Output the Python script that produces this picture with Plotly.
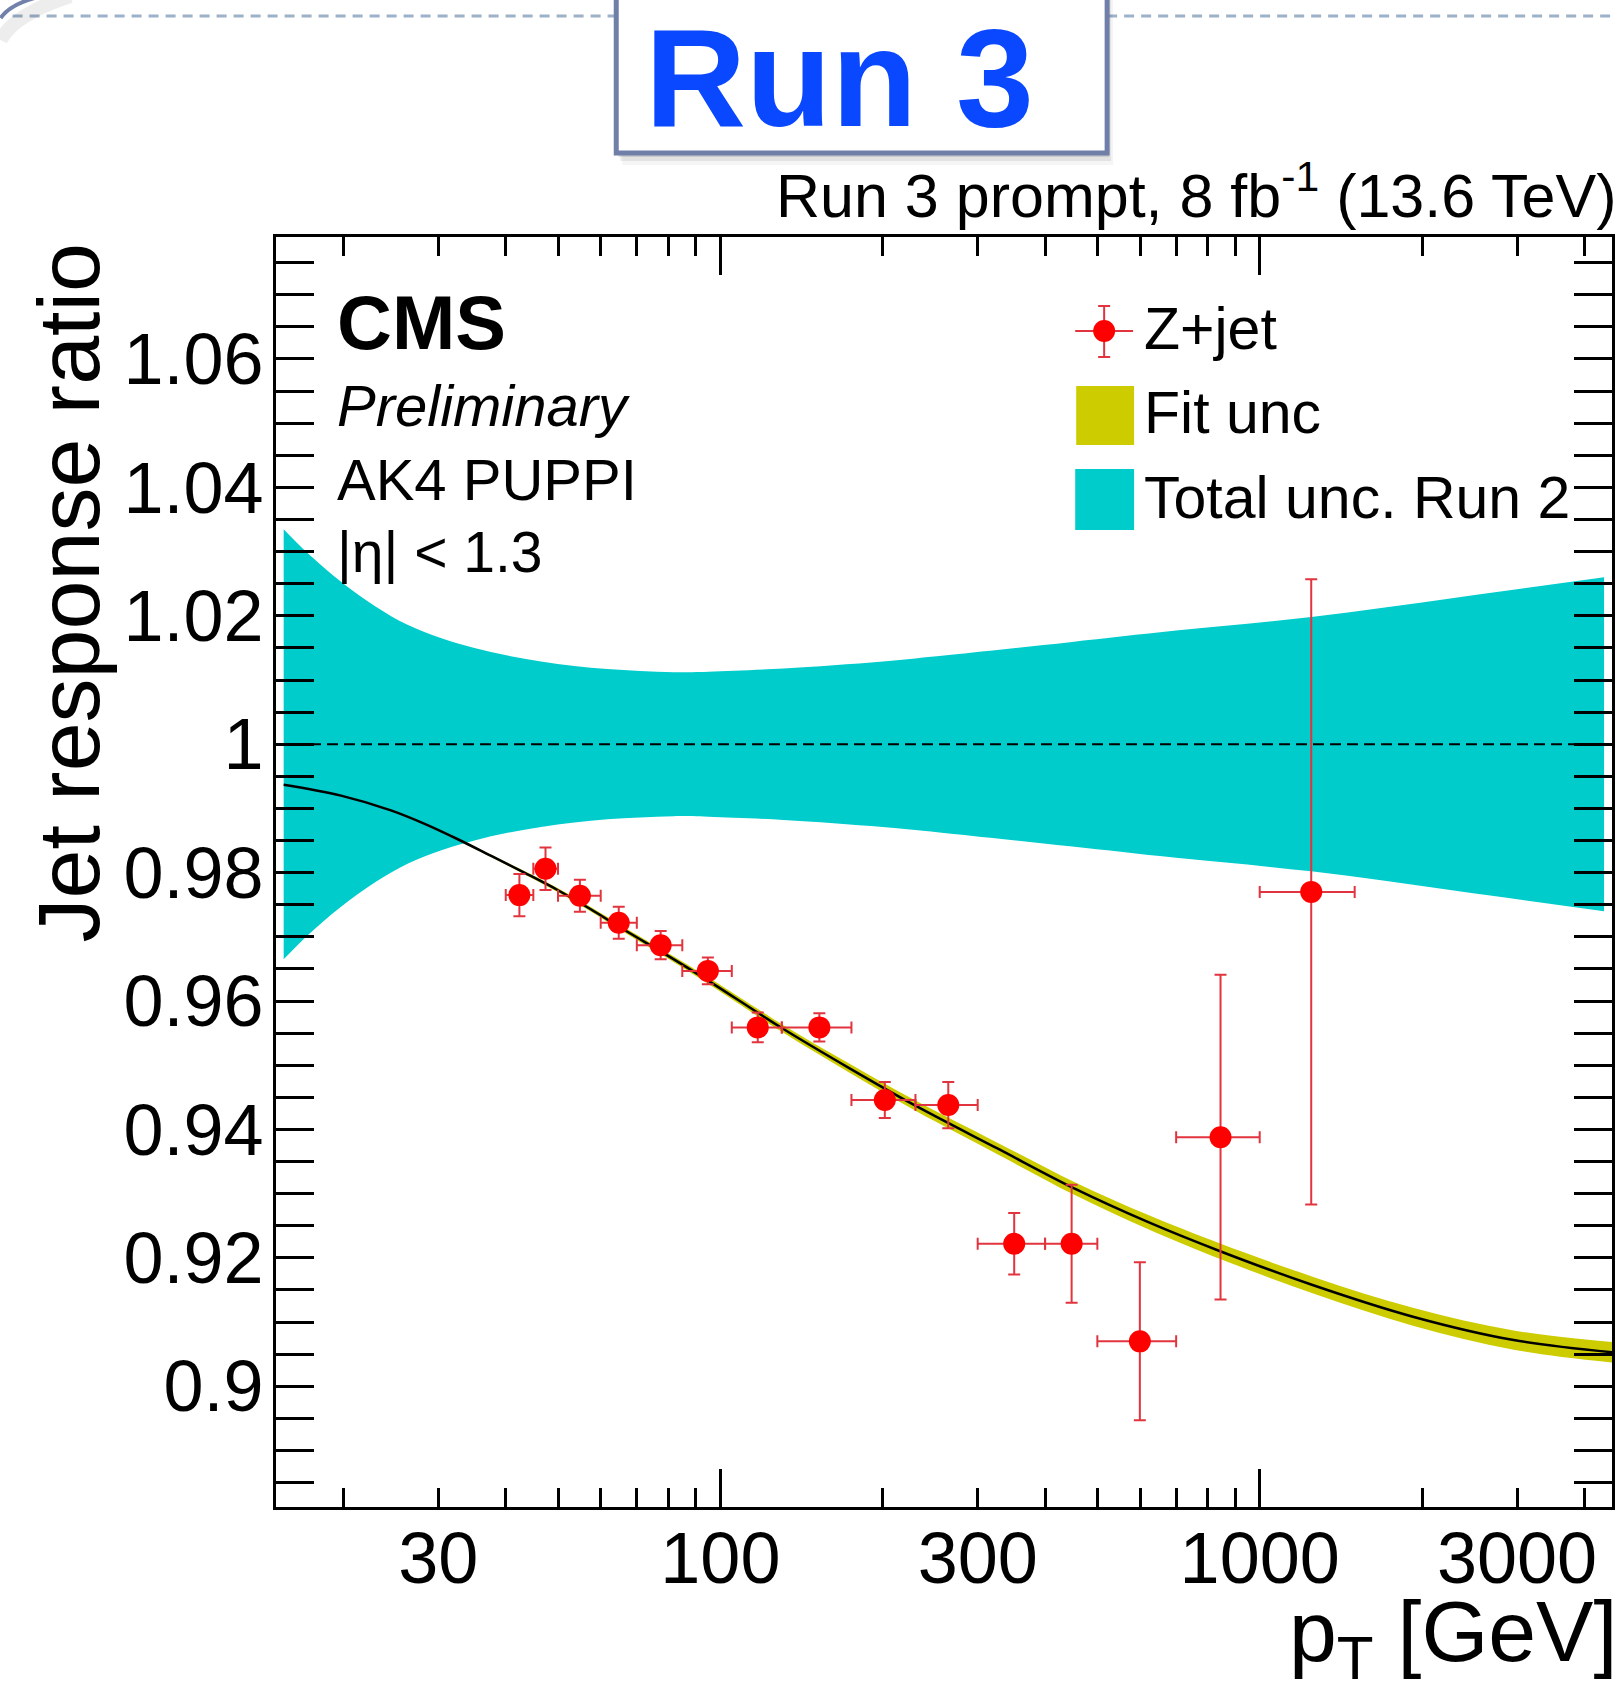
import math
import plotly.graph_objects as go

# ---------------------------------------------------------------------------
# Canvas and frame (pixel units)
# ---------------------------------------------------------------------------
W, H = 1619, 1681
L, R, T, B = 276, 1615, 237, 1507          # plot frame edges
PT_MIN, PT_MAX = 15, 4500                  # x-axis range [GeV]
Y_MIN, Y_MAX = 0.8812, 1.079               # y-axis range


def px(X):
    """pixel column -> paper x"""
    return (X - L) / (R - L)


def py(Y):
    """pixel row -> paper y"""
    return (B - Y) / (B - T)


FONT = "Liberation Sans, Arial, Helvetica, sans-serif"

# ---------------------------------------------------------------------------
# Z+jet response ratio (mean pT of bin, bin edges, ratio, stat. error)
# ---------------------------------------------------------------------------
zjet_pt = [42.4, 47.4, 54.9, 64.8, 77.5, 94.8, 117.3, 152.6, 201.8, 264.6,
           350.6, 448.0, 599.5, 846.0, 1246.0]
zjet_pt_low = [40, 45, 50, 60, 70, 85, 105, 130, 175, 230, 300, 400, 500, 700, 1000]
zjet_pt_high = [45, 50, 60, 70, 85, 105, 130, 175, 230, 300, 400, 500, 700, 1000, 1500]
zjet_ratio = [0.9765, 0.9806, 0.9764, 0.9722, 0.9687, 0.9647, 0.9559, 0.9559,
              0.9446, 0.9438, 0.9222, 0.9222, 0.9070, 0.9388, 0.9770]
zjet_err = [0.0033, 0.0033, 0.0025, 0.0025, 0.0022, 0.0021, 0.0023, 0.0022,
            0.0028, 0.0036, 0.0048, 0.0092, 0.0123, 0.0253, 0.0487]

# ---------------------------------------------------------------------------
# Fitted response and its uncertainty
# ---------------------------------------------------------------------------
fit_pt = [15.5, 19.8, 24.5, 28.3, 32.6, 37.6, 43.3, 49.9, 57.5, 66.3, 82.0,
          96.5, 130, 173, 230, 327, 456, 620, 847, 1261, 1931, 2957, 4500]
fit_val = [0.9937, 0.9920, 0.9897, 0.9876, 0.9852, 0.9826, 0.9800, 0.9773,
           0.9743, 0.9711, 0.9665, 0.9628, 0.9558, 0.9496, 0.9437, 0.9370,
           0.9307, 0.9256, 0.9210, 0.9157, 0.9108, 0.9072, 0.9053]
fit_unc = [0.0001, 0.0001, 0.00012, 0.00014, 0.00016, 0.0002, 0.00025, 0.0003,
           0.00035, 0.0004, 0.00045, 0.0005, 0.0006, 0.0007, 0.0008, 0.0009,
           0.0010, 0.0011, 0.0012, 0.0013, 0.0014, 0.0015, 0.0016]

# ---------------------------------------------------------------------------
# Run 2 total uncertainty (symmetric around unity)
# ---------------------------------------------------------------------------
run2_pt = [15.5, 17.2, 19.8, 22.9, 26.3, 30.4, 35.0, 40.3, 46.5, 53.6, 61.7,
           71.0, 82.0, 95.0, 131, 200, 265, 445, 700, 1246, 2342, 4350]
run2_unc = [0.0335, 0.0297, 0.0253, 0.0215, 0.0186, 0.0165, 0.0150, 0.0138,
            0.0129, 0.0122, 0.0117, 0.0114, 0.0112, 0.0113, 0.0118, 0.0129,
            0.0139, 0.0159, 0.0177, 0.0198, 0.0229, 0.0260]

# Axis ticks
x_major = [100, 1000]
x_minor = [20, 30, 40, 50, 60, 70, 80, 90, 200, 300, 400, 500, 600, 700, 800,
           900, 2000, 3000, 4000]
x_label_vals = [30, 100, 300, 1000, 3000]
x_label_text = ["30", "100", "300", "1000", "3000"]
y_major = [0.90, 0.92, 0.94, 0.96, 0.98, 1.00, 1.02, 1.04, 1.06]
y_label_text = ["0.9", "0.92", "0.94", "0.96", "0.98", "1", "1.02", "1.04", "1.06"]

CYAN = "#00CCCC"
OLIVE = "#CCCC00"
RED = "#FF0000"
ERR_RED = "rgb(226,52,62)"

fig = go.Figure()

# Run 2 total uncertainty band
fig.add_trace(go.Scatter(
    x=run2_pt, y=[1 - u for u in run2_unc], mode="lines",
    line=dict(width=0, shape="spline", color=CYAN),
    hoverinfo="skip", showlegend=False))
fig.add_trace(go.Scatter(
    x=run2_pt, y=[1 + u for u in run2_unc], mode="lines",
    line=dict(width=0, shape="spline", color=CYAN),
    fill="tonexty", fillcolor=CYAN, hoverinfo="skip", showlegend=False))

# unity reference
fig.add_trace(go.Scatter(
    x=[PT_MIN, PT_MAX], y=[1, 1], mode="lines",
    line=dict(color="black", width=2, dash="11px,6px"),
    hoverinfo="skip", showlegend=False))

# fit uncertainty band
fig.add_trace(go.Scatter(
    x=fit_pt, y=[v - u for v, u in zip(fit_val, fit_unc)], mode="lines",
    line=dict(width=0, shape="spline", color=OLIVE),
    hoverinfo="skip", showlegend=False))
fig.add_trace(go.Scatter(
    x=fit_pt, y=[v + u for v, u in zip(fit_val, fit_unc)], mode="lines",
    line=dict(width=0, shape="spline", color=OLIVE),
    fill="tonexty", fillcolor=OLIVE, hoverinfo="skip", showlegend=False))

# fit central value
fig.add_trace(go.Scatter(
    x=fit_pt, y=fit_val, mode="lines",
    line=dict(color="black", width=2.5, shape="spline"),
    hoverinfo="skip", showlegend=False))

# Z+jet points
fig.add_trace(go.Scatter(
    x=zjet_pt, y=zjet_ratio, mode="markers",
    marker=dict(color=RED, size=22, line=dict(width=0)),
    error_y=dict(type="data", array=zjet_err, color=ERR_RED, thickness=2, width=6),
    error_x=dict(type="data",
                 array=[h - m for h, m in zip(zjet_pt_high, zjet_pt)],
                 arrayminus=[m - l for m, l in zip(zjet_pt, zjet_pt_low)],
                 color=ERR_RED, thickness=2, width=6),
    showlegend=False, name="Z+jet"))

# carrier trace for the labelled x axis
fig.add_trace(go.Scatter(x=[100], y=[1], xaxis="x2", mode="markers",
                         marker=dict(opacity=0), hoverinfo="skip", showlegend=False))

tick_font = dict(family=FONT, size=72, color="black")

fig.update_layout(
    width=W, height=H, autosize=False,
    margin=dict(l=L, r=W - R, t=T, b=H - B, pad=0),
    paper_bgcolor="white", plot_bgcolor="white",
    showlegend=False,
    xaxis=dict(
        type="log", range=[math.log10(PT_MIN), math.log10(PT_MAX)],
        showline=True, linecolor="black", linewidth=3, mirror="allticks",
        ticks="inside", tickmode="array", tickvals=x_major, ticklen=38,
        tickwidth=2.5, tickcolor="black", showticklabels=False,
        showgrid=False, zeroline=False,
        minor=dict(tickmode="array", tickvals=x_minor, ticks="inside",
                   ticklen=19, tickwidth=2.5, tickcolor="black", showgrid=False),
    ),
    xaxis2=dict(
        type="log", range=[math.log10(PT_MIN), math.log10(PT_MAX)],
        overlaying="x", anchor="y", side="bottom",
        showline=False, ticks="", tickmode="array", tickvals=x_label_vals,
        ticktext=x_label_text, tickfont=tick_font, ticklabelstandoff=3,
        showgrid=False, zeroline=False,
    ),
    yaxis=dict(
        range=[Y_MIN, Y_MAX],
        showline=True, linecolor="black", linewidth=3, mirror="allticks",
        ticks="inside", tickmode="array", tickvals=y_major, ticktext=y_label_text,
        ticklen=38, tickwidth=2.5, tickcolor="black", tickfont=tick_font,
        ticklabelstandoff=-5, showgrid=False, zeroline=False,
        minor=dict(dtick=0.005, tick0=0, ticks="inside", ticklen=19,
                   tickwidth=2.5, tickcolor="black", showgrid=False),
    ),
)

shapes = []
annotations = []

# --- slide decoration: dashed rule, corner arc, "Run 3" badge -------------
shapes.append(dict(type="line", xref="paper", yref="paper",
                   x0=px(12), x1=px(617), y0=py(16), y1=py(16),
                   line=dict(color="#9db2c9", width=3, dash="10px,7px")))
shapes.append(dict(type="line", xref="paper", yref="paper",
                   x0=px(1109), x1=px(1619), y0=py(16), y1=py(16),
                   line=dict(color="#9db2c9", width=3, dash="10px,7px")))
shapes.append(dict(type="path", xref="paper", yref="paper",
                   path=f"M {px(0)},{py(40)} Q {px(14)},{py(14)} {px(70)},{py(-4)}",
                   line=dict(color="rgba(0,0,0,0.07)", width=14)))
shapes.append(dict(type="path", xref="paper", yref="paper",
                   path=f"M {px(0)},{py(18)} Q {px(9)},{py(5)} {px(34)},{py(-2)}",
                   line=dict(color="#7181aa", width=4)))
for off, alpha in [(12, 0.04), (8, 0.07), (4, 0.10)]:
    shapes.append(dict(type="rect", xref="paper", yref="paper",
                       x0=px(617 + off / 2), x1=px(1109 + off / 2),
                       y0=py(153 + off), y1=py(-20),
                       fillcolor=f"rgba(0,0,0,{alpha})", line=dict(width=0)))
shapes.append(dict(type="rect", xref="paper", yref="paper",
                   x0=px(617), x1=px(1109), y0=py(153), y1=py(-20),
                   fillcolor="white", line=dict(color="#6f7fa8", width=5)))
annotations.append(dict(xref="paper", yref="paper", x=px(841), y=py(77),
                        xanchor="center", yanchor="middle", showarrow=False,
                        text="<b>Run 3</b>",
                        font=dict(family=FONT, size=140, color="#0a48ff")))

# --- header and axis titles ------------------------------------------------
annotations.append(dict(xref="paper", yref="paper", x=px(1621), y=py(191),
                        xanchor="right", yanchor="middle", showarrow=False,
                        text="Run 3 prompt, 8 fb<sup>-1</sup> (13.6 TeV)",
                        font=dict(family=FONT, size=61, color="black")))
annotations.append(dict(xref="paper", yref="paper", x=px(68), y=py(592),
                        xanchor="center", yanchor="middle", showarrow=False,
                        textangle=-90, text="Jet response ratio",
                        font=dict(family=FONT, size=88, color="black")))
annotations.append(dict(xref="paper", yref="paper", x=px(1622), y=py(1581),
                        xanchor="right", yanchor="top", showarrow=False,
                        text="p<sub>T</sub> [GeV]",
                        font=dict(family=FONT, size=86, color="black")))

# --- CMS label block ---------------------------------------------------------
for txt, yc, size in [("<b>CMS</b>", 322, 76),
                      ("<i>Preliminary</i>", 406, 58),
                      ("AK4 PUPPI", 480, 58),
                      ("|η| &lt; 1.3", 552, 57)]:
    annotations.append(dict(xref="paper", yref="paper", x=px(335), y=py(yc),
                            xanchor="left", yanchor="middle", showarrow=False,
                            text=txt, font=dict(family=FONT, size=size, color="black")))

# --- legend ------------------------------------------------------------------
lx, ly = 1106, 331
shapes += [
    dict(type="line", xref="paper", yref="paper", x0=px(lx - 29), x1=px(lx + 29),
         y0=py(ly), y1=py(ly), line=dict(color=ERR_RED, width=2)),
    dict(type="line", xref="paper", yref="paper", x0=px(lx), x1=px(lx),
         y0=py(ly - 25), y1=py(ly + 26), line=dict(color=ERR_RED, width=2)),
    dict(type="line", xref="paper", yref="paper", x0=px(lx - 6), x1=px(lx + 6),
         y0=py(ly - 25), y1=py(ly - 25), line=dict(color=ERR_RED, width=2)),
    dict(type="line", xref="paper", yref="paper", x0=px(lx - 6), x1=px(lx + 6),
         y0=py(ly + 26), y1=py(ly + 26), line=dict(color=ERR_RED, width=2)),
    dict(type="circle", xref="paper", yref="paper", x0=px(lx - 11), x1=px(lx + 11),
         y0=py(ly + 11), y1=py(ly - 11), fillcolor=RED, line=dict(width=0)),
    dict(type="rect", xref="paper", yref="paper", x0=px(1078), x1=px(1136),
         y0=py(445), y1=py(386), fillcolor=OLIVE, line=dict(width=0)),
    dict(type="rect", xref="paper", yref="paper", x0=px(1077), x1=px(1136),
         y0=py(530), y1=py(469), fillcolor=CYAN, line=dict(width=0)),
]
for txt, yc in [("Z+jet", 329), ("Fit unc", 413), ("Total unc. Run 2", 498)]:
    annotations.append(dict(xref="paper", yref="paper", x=px(1144), y=py(yc),
                            xanchor="left", yanchor="middle", showarrow=False,
                            text=txt, font=dict(family=FONT, size=59, color="black")))

fig.update_layout(shapes=shapes, annotations=annotations)

fig.write_html("out.html")
